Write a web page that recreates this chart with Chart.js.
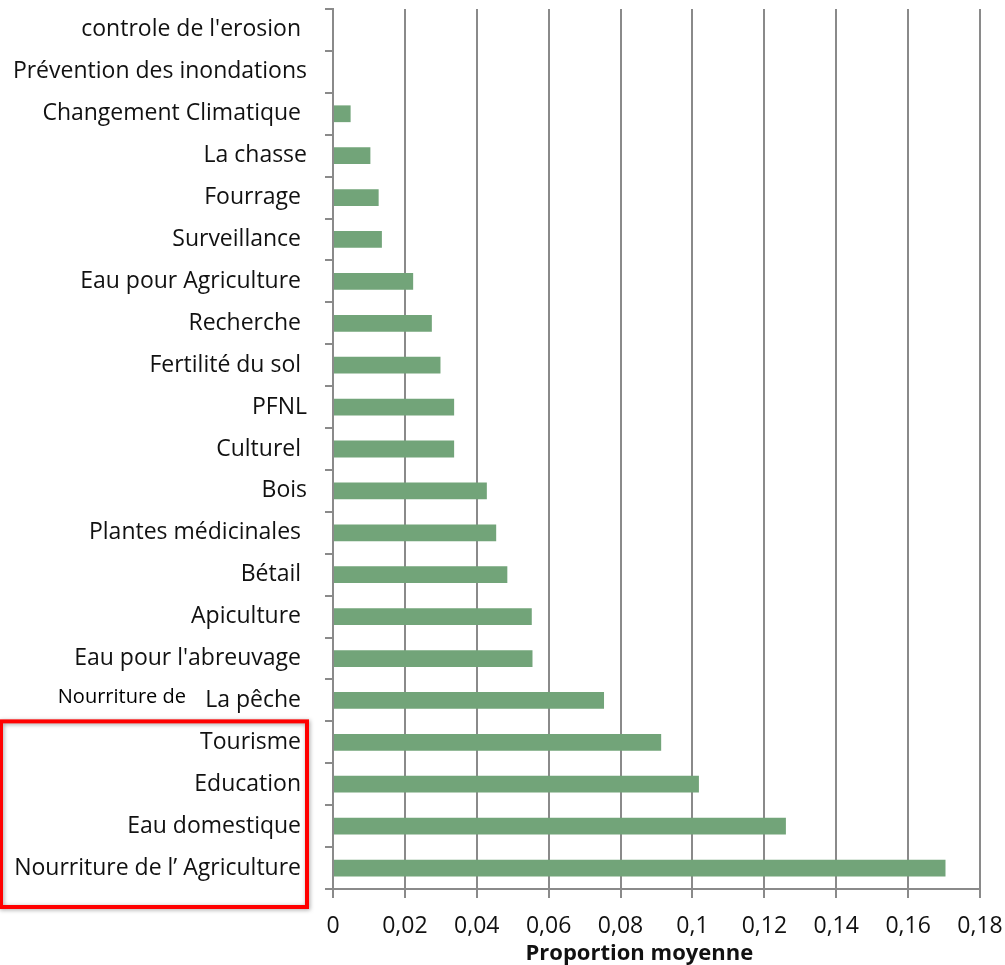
<!DOCTYPE html>
<html>
<head>
<meta charset="utf-8">
<script src="https://cdn.jsdelivr.net/npm/chart.js@4.4.1/dist/chart.umd.min.js"></script>
<style>
  html, body { margin: 0; padding: 0; background: #fff; }
  #wrap { width: 1005px; height: 965px; }
</style>
</head>
<body>
<div id="wrap"><canvas id="chart"></canvas></div>
<script>
// Catégories (de haut en bas)
const categories = [
    "controle de l'erosion ",
    'Prévention des inondations',
    'Changement Climatique ',
    'La chasse',
    'Fourrage ',
    'Surveillance ',
    'Eau pour Agriculture ',
    'Recherche ',
    'Fertilité du sol ',
    'PFNL',
    'Culturel ',
    'Bois',
    'Plantes médicinales ',
    'Bétail ',
    'Apiculture ',
    "Eau pour l'abreuvage ",
    'La pêche ',
    'Tourisme ',
    'Education ',
    'Eau domestique ',
    'Nourriture de l’ Agriculture '
];

// Proportion moyenne
const proportions = [
    0, 0, 0.0049, 0.0104, 0.0127, 0.0136, 0.0223, 0.0275, 0.0299, 0.0337,
    0.0337, 0.0428, 0.0454, 0.0485, 0.0553, 0.0555, 0.0754, 0.0913, 0.1018,
    0.1260, 0.1704
];

// Graduations de l'axe X
const xTickLabels = ['0', '0,02', '0,04', '0,06', '0,08', '0,1', '0,12', '0,14', '0,16', '0,18'];

const FONT = 'Open Sans';
const GRID = '#8a8a8a';

// Annotations: cadre rouge et texte "Nourriture de"
const annotations = {
    id: 'annotations',
    afterDraw(chart) {
        const ctx = chart.ctx;
        const y = chart.scales.y;
        const peche = y.getPixelForValue(16);
        const tourisme = y.getPixelForValue(17);
        const top = (peche + tourisme) / 2;
        const bottom = y.bottom + 18;
        const right = y.right - 26;

        ctx.save();
        ctx.shadowColor = 'rgba(0,0,0,0.35)';
        ctx.shadowBlur = 4;
        ctx.shadowOffsetX = 1;
        ctx.shadowOffsetY = 1;
        ctx.strokeStyle = '#ff0000';
        ctx.lineWidth = 4;
        ctx.strokeRect(1, top, right - 1, bottom - top);
        ctx.restore();

        ctx.save();
        ctx.font = '20px "' + FONT + '"';
        ctx.fillStyle = '#000';
        ctx.textAlign = 'right';
        ctx.textBaseline = 'middle';
        ctx.fillText('Nourriture de', 186, peche - 3);
        ctx.restore();
    }
};

new Chart(document.getElementById('chart').getContext('2d'), {
    type: 'bar',
    data: {
        labels: categories,
        datasets: [{
            data: proportions,
            backgroundColor: '#72a479',
            barPercentage: 0.4,
            categoryPercentage: 1
        }]
    },
    options: {
        indexAxis: 'y',
        responsive: true,
        maintainAspectRatio: false,
        animation: false,
        layout: { padding: { top: 9, right: 25, left: 0, bottom: 0 } },
        plugins: {
            legend: { display: false },
            tooltip: { enabled: false }
        },
        scales: {
            x: {
                type: 'linear',
                min: 0,
                max: 0.18,
                afterFit(scale) {
                    scale.height = 76;
                    scale.paddingLeft = 0;
                    scale.paddingRight = 0;
                },
                ticks: {
                    stepSize: 0.02,
                    padding: 15,
                    color: '#111',
                    font: { family: FONT, size: 23 },
                    maxRotation: 0,
                    callback: (value, index) => xTickLabels[index]
                },
                grid: { color: GRID, lineWidth: 2, tickLength: 9 },
                border: { color: GRID, width: 2 },
                title: {
                    display: true,
                    text: 'Proportion moyenne      ',
                    color: '#111',
                    font: { family: FONT, size: 22, weight: 'bold', lineHeight: 1 },
                    padding: { top: 0, bottom: 0 }
                }
            },
            y: {
                afterFit(scale) {
                    scale.width = 333;
                    scale.paddingTop = 0;
                    scale.paddingBottom = 0;
                },
                ticks: {
                    padding: 18,
                    color: '#111',
                    font: { family: FONT, size: 23 },
                    autoSkip: false
                },
                grid: {
                    offset: true,
                    drawOnChartArea: false,
                    color: GRID,
                    lineWidth: 2,
                    tickLength: 8
                },
                border: { color: GRID, width: 2 }
            }
        }
    },
    plugins: [annotations]
});
</script>
</body>
</html>
